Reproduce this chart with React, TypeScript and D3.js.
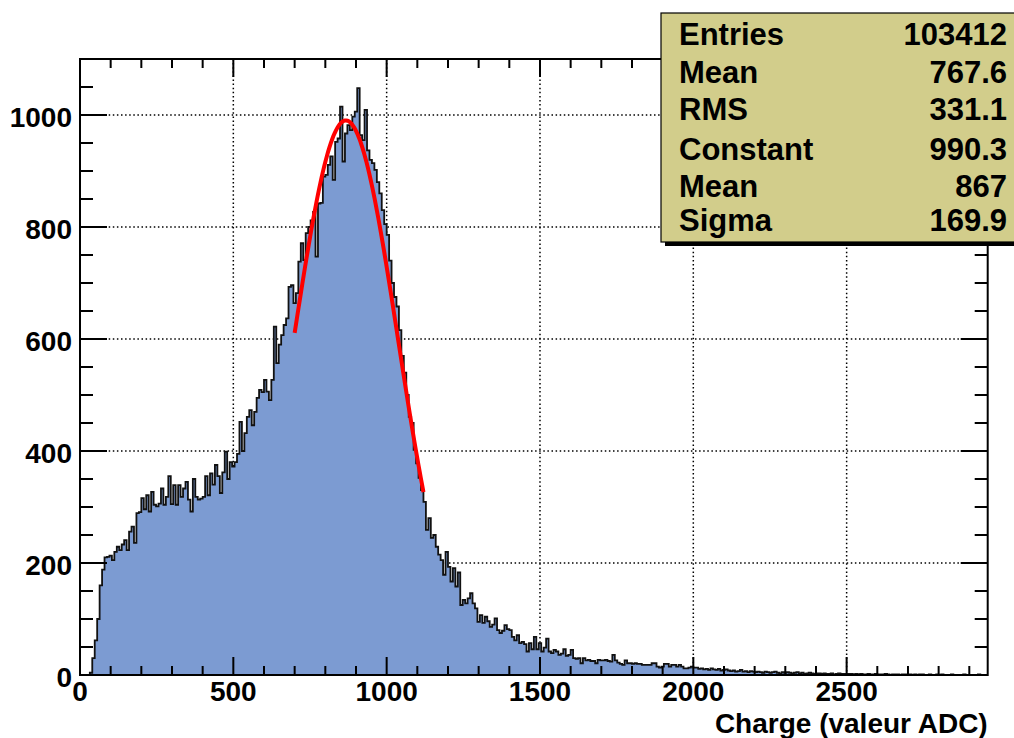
import * as d3 from "d3";

// histogram: 370 bins of 8 ADC counts, 0..2960
const binWidth = 8;
const xMax = 2960;
const counts = [
  0, 0, 0, 0, 4, 30, 62, 100, 160, 188,
  210, 211, 213, 205, 220, 229, 223, 233, 241, 223,
  256, 265, 236, 289, 291, 316, 296, 321, 292, 327,
  304, 301, 306, 333, 304, 318, 355, 305, 339, 304,
  339, 318, 333, 345, 313, 292, 350, 318, 313, 315,
  318, 355, 321, 360, 340, 375, 355, 325, 362, 399,
  350, 380, 372, 380, 395, 452, 400, 432, 461, 473,
  446, 470, 495, 509, 505, 527, 506, 491, 527, 622,
  557, 590, 607, 625, 637, 693, 696, 664, 682, 738,
  771, 741, 789, 800, 812, 827, 747, 842, 843, 890,
  893, 911, 926, 884, 952, 958, 1015, 917, 967, 982,
  973, 997, 1006, 1048, 964, 955, 1009, 937, 920, 914,
  902, 880, 860, 830, 805, 786, 740, 700, 675, 658,
  616, 570, 540, 500, 461, 450, 402, 378, 352, 330,
  309, 259, 280, 245, 250, 229, 215, 205, 179, 220,
  193, 167, 191, 158, 183, 125, 134, 128, 137, 146,
  128, 119, 95, 107, 93, 104, 96, 86, 90, 101,
  80, 75, 79, 89, 82, 80, 68, 62, 71, 57,
  59, 55, 42, 57, 46, 68, 46, 57, 42, 49,
  65, 42, 39, 45, 42, 36, 38, 46, 34, 36,
  45, 30, 29, 30, 21, 30, 26, 27, 25, 25,
  21, 27, 26, 26, 27, 25, 24, 36, 26, 22,
  20, 18, 26, 21, 21, 20, 21, 20, 20, 18,
  18, 18, 18, 21, 21, 15, 13, 15, 20, 20,
  15, 18, 18, 15, 18, 15, 12, 12, 13, 15,
  13, 13, 11, 12, 10, 11, 9, 12, 10, 9,
  11, 8, 9, 10, 8, 7, 8, 6, 7, 9,
  6, 7, 5, 7, 6, 5, 6, 5, 4, 6,
  5, 4, 5, 6, 4, 3, 5, 4, 5, 4,
  3, 4, 5, 3, 4, 2, 3, 4, 3, 2,
  3, 3, 2, 3, 2, 2, 3, 1, 2, 3,
  2, 2, 1, 2, 2, 1, 2, 1, 2, 1,
  1, 2, 1, 1, 2, 1, 1, 1, 2, 1,
  0, 1, 1, 1, 0, 1, 1, 0, 1, 0,
  1, 0, 1, 1, 0, 0, 1, 0, 0, 1,
  0, 1, 0, 0, 0, 1, 0, 0, 0, 0,
  1, 0, 0, 0, 0, 0, 1, 0, 0, 0,
];

const xTicks = [0, 500, 1000, 1500, 2000, 2500];
const yTicks = [0, 200, 400, 600, 800, 1000];
const xTitle = "Charge (valeur ADC)";

// stats box
const statLabels = ["Entries", "Mean", "RMS", "Constant", "Mean", "Sigma"];
const statValues = ["103412", "767.6", "331.1", "990.3", "867", "169.9"];

// gaussian fit
const fitConstant = 990.3;
const fitMean = 867;
const fitSigma = 169.9;
const fitRange = [700, 1120];

const font = "'Liberation Sans', Arial, Helvetica, sans-serif";

export default function App() {
  const width = 1014;
  const height = 738;
  const left = 80;
  const right = 987.7;
  const top = 59;
  const bottom = 675;

  const x = d3.scaleLinear().domain([0, xMax]).range([left, right]);
  const y = d3.scaleLinear().domain([0, 1100]).range([bottom, top]);

  // step outline of the histogram
  let d = `M${x(0)},${y(0)}`;
  counts.forEach((c, i) => {
    d += `V${y(c)}H${x((i + 1) * binWidth)}`;
  });
  d += `V${y(0)}`;
  const fillPath = d + "Z";

  const fitPts = d3.range(fitRange[0], fitRange[1] + 0.1, (fitRange[1] - fitRange[0]) / 100)
    .map((v) => [v, fitConstant * Math.exp(-0.5 * ((v - fitMean) / fitSigma) ** 2)] as [number, number]);
  const fitLine = d3.line<[number, number]>().x((p) => x(p[0])).y((p) => y(p[1]))(fitPts) ?? "";

  const xMinor = d3.range(100, xMax, 100).filter((v) => v % 500 !== 0);
  const yMinor = d3.range(50, 1100, 50).filter((v) => v % 200 !== 0);

  const statRows = [45, 83, 120, 160, 197, 231];

  return (
    <svg width={width} height={height} style={{ position: "absolute", left: 0, top: 0, background: "#fff" }}
      fontFamily={font} fontWeight="bold">
      {/* grid */}
      <g stroke="#000" strokeWidth={1.5} strokeDasharray="1.5,2.6">
        {xTicks.filter((v) => v > 0).map((v) => (
          <line key={`gx${v}`} x1={x(v)} x2={x(v)} y1={top} y2={bottom} />
        ))}
        {yTicks.filter((v) => v > 0).map((v) => (
          <line key={`gy${v}`} x1={left} x2={right} y1={y(v)} y2={y(v)} />
        ))}
      </g>

      {/* histogram */}
      <path d={fillPath} fill="#7c9bd2" stroke="none" />
      <path d={d} fill="none" stroke="#111" strokeWidth={1.8} strokeLinejoin="miter" />

      {/* fit */}
      <path d={fitLine} fill="none" stroke="#ff0000" strokeWidth={4} />

      {/* frame and ticks */}
      <g stroke="#000" strokeWidth={2}>
        <rect x={left} y={top} width={right - left} height={bottom - top} fill="none" />
        {xTicks.map((v) => (
          <g key={`tx${v}`}>
            <line x1={x(v)} x2={x(v)} y1={bottom} y2={bottom - 18} />
            <line x1={x(v)} x2={x(v)} y1={top} y2={top + 18} />
          </g>
        ))}
        {xMinor.map((v) => (
          <g key={`mx${v}`}>
            <line x1={x(v)} x2={x(v)} y1={bottom} y2={bottom - 9} />
            <line x1={x(v)} x2={x(v)} y1={top} y2={top + 9} />
          </g>
        ))}
        {yTicks.map((v) => (
          <g key={`ty${v}`}>
            <line x1={left} x2={left + 27} y1={y(v)} y2={y(v)} />
            <line x1={right} x2={right - 27} y1={y(v)} y2={y(v)} />
          </g>
        ))}
        {yMinor.map((v) => (
          <g key={`my${v}`}>
            <line x1={left} x2={left + 13} y1={y(v)} y2={y(v)} />
            <line x1={right} x2={right - 13} y1={y(v)} y2={y(v)} />
          </g>
        ))}
      </g>

      {/* tick labels */}
      <g fontSize={28} fill="#000">
        {xTicks.map((v) => (
          <text key={`lx${v}`} x={x(v)} y={bottom + 26} textAnchor="middle">{v}</text>
        ))}
        {yTicks.map((v) => (
          <text key={`ly${v}`} x={left - 8} y={y(v) + 12} textAnchor="end">{v}</text>
        ))}
        <text x={right} y={733} textAnchor="end" fontSize={28}>{xTitle}</text>
      </g>

      {/* stats box */}
      <rect x={665} y={17} width={360} height={229} fill="#000" />
      <rect x={661} y={13} width={360} height={229} fill="#d2cd8b" stroke="#000" strokeWidth={1.2} />
      <g fontSize={31} fill="#000">
        {statLabels.map((s, i) => (
          <text key={`sl${i}`} x={679} y={statRows[i]}>{s}</text>
        ))}
        {statValues.map((s, i) => (
          <text key={`sv${i}`} x={1007} y={statRows[i]} textAnchor="end">{s}</text>
        ))}
      </g>
    </svg>
  );
}
